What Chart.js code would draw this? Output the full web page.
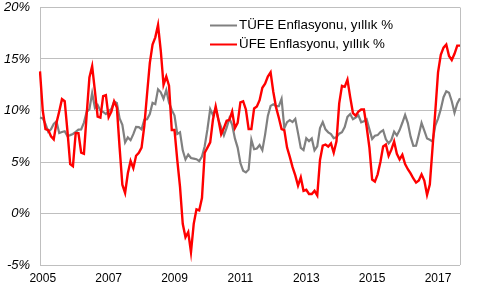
<!DOCTYPE html>
<html><head><meta charset="utf-8">
<script src="https://cdn.jsdelivr.net/npm/chart.js@4"></script>
<style>html,body{margin:0;padding:0;background:#fff}#wrap{width:481px;height:289px}</style>
</head><body><div id="wrap"><canvas id="c" width="481" height="289"></canvas></div>
<script>
// Monthly series, Dec 2004 .. Sep 2017
const startYear = 2004, startMonth = 12;
const tickYears = ['2005','2007','2009','2011','2013','2015','2017'];
const tufeLabel = 'TÜFE Enflasyonu, yıllık %';
const ufeLabel = 'ÜFE Enflasyonu, yıllık %';

const tufe = [
 9.32,
 9.24, 8.69, 7.94, 8.18, 8.70, 8.95, 7.82, 7.91, 7.99, 7.52, 7.61, 7.72,
 7.93, 8.15, 8.16, 8.83, 9.86, 10.12, 11.69, 10.26, 10.55, 9.98, 9.86, 9.65,
 9.93, 10.16, 10.86, 10.72, 9.23, 8.60, 6.90, 7.39, 7.12, 7.70, 8.40, 8.39,
 8.17, 9.10, 9.15, 9.66, 10.74, 10.61, 12.06, 11.77, 11.13, 11.99, 10.76, 10.06,
 9.50, 7.73, 7.89, 6.13, 5.24, 5.73, 5.39, 5.33, 5.27, 5.08, 5.53, 6.53,
 8.19, 10.13, 9.56, 10.19, 9.10, 8.37, 7.58, 8.33, 9.24, 8.62, 7.29, 6.40,
 4.90, 4.16, 3.99, 4.26, 7.17, 6.24, 6.31, 6.65, 6.15, 7.66, 9.48, 10.45,
 10.61, 10.43, 10.43, 11.14, 8.28, 8.87, 9.07, 8.88, 9.19, 7.80, 6.37, 6.16,
 7.31, 7.03, 7.29, 6.13, 6.51, 8.30, 8.88, 8.17, 7.88, 7.71, 7.32, 7.40,
 7.75, 7.89, 8.39, 9.38, 9.66, 9.16, 9.32, 9.54, 8.86, 8.96, 9.15, 8.17,
 7.24, 7.55, 7.61, 7.91, 8.09, 7.20, 6.81, 7.14, 7.95, 7.58, 8.10, 8.81,
 9.58, 8.78, 7.46, 6.57, 6.58, 7.64, 8.79, 8.05, 7.28, 7.16, 7.00, 8.53,
 9.22, 10.13, 11.29, 11.87, 11.72, 10.90, 9.79, 10.68, 11.20
];

const ufe = [
 13.8,
 10.0, 8.2, 8.1, 7.5, 7.2, 8.8, 9.9, 11.1, 10.9, 8.0, 4.8, 4.6,
 7.8, 7.8, 5.9, 5.8, 9.6, 13.2, 14.3, 11.9, 9.4, 9.3, 11.4, 11.5,
 9.35, 9.9, 10.9, 10.3, 6.4, 2.8, 2.0, 3.9, 5.1, 4.4, 5.6, 5.9,
 6.4, 8.5, 11.6, 14.6, 16.4, 17.1, 18.3, 15.8, 12.5, 13.3, 12.4, 8.1,
 8.1, 5.2, 2.6, -1.0, -2.3, -1.8, -3.75, -1.0, 0.4, 0.3, 1.5, 5.9,
 6.4, 6.9, 9.1, 10.4, 9.1, 7.7, 8.3, 9.0, 9.1, 9.9, 8.3, 8.8,
 10.8, 10.9, 10.1, 8.2, 8.2, 10.2, 10.4, 11.0, 12.2, 12.6, 13.3, 13.7,
 11.8, 10.3, 9.3, 8.2, 8.1, 6.4, 5.5, 4.5, 3.7, 2.7, 3.5, 2.2,
 2.3, 1.9, 1.9, 2.2, 1.75, 5.2, 6.6, 6.7, 6.5, 6.8, 5.9, 7.0,
 10.7, 12.4, 12.3, 13.0, 11.3, 9.75, 9.5, 9.9, 10.1, 10.1, 8.4, 6.4,
 3.3, 3.1, 3.8, 5.0, 6.5, 6.7, 5.6, 6.2, 7.0, 5.8, 5.25, 5.7,
 4.8, 4.3, 3.9, 3.4, 3.0, 3.2, 3.8, 3.2, 1.8, 2.8, 6.4, 9.9,
 13.7, 15.4, 16.1, 16.4, 15.3, 14.9, 15.5, 16.3, 16.3
];

const months = tufe.map((_, i) => {
  const k = startMonth - 1 + i;
  return (startYear + Math.floor(k / 12)) + '-' + String(k % 12 + 1).padStart(2, '0');
});

const FONT = '"Liberation Sans", Arial, sans-serif';

const framePlugin = {
  id: 'frame',
  beforeDatasetsDraw(chart) {
    const {ctx, chartArea: a} = chart;
    ctx.save();
    ctx.strokeStyle = '#bfbfbf';
    ctx.lineWidth = 1;
    ctx.beginPath();
    ctx.moveTo(Math.round(a.right) + 0.5, a.top);
    ctx.lineTo(Math.round(a.right) + 0.5, a.bottom);
    ctx.stroke();
    ctx.restore();
  }
};

const legendPlugin = {
  id: 'innerLegend',
  afterDraw(chart) {
    const {ctx, chartArea: a} = chart;
    ctx.save();
    ctx.font = '13.33px ' + FONT;
    ctx.textBaseline = 'middle';
    ctx.textAlign = 'left';
    chart.data.datasets.forEach((ds, i) => {
      const y = a.top + 18 + i * 19;
      const x0 = a.left + 170;
      ctx.strokeStyle = ds.borderColor;
      ctx.lineWidth = 2;
      ctx.beginPath();
      ctx.moveTo(x0, y);
      ctx.lineTo(x0 + 27, y);
      ctx.stroke();
      ctx.fillStyle = '#000';
      ctx.fillText(ds.label, x0 + 29, y);
    });
    ctx.restore();
  }
};

new Chart(document.getElementById('c'), {
  type: 'line',
  data: {
    labels: months,
    datasets: [
      {label: tufeLabel, data: tufe, borderColor: '#808080', borderWidth: 2.2, pointRadius: 0, tension: 0, order: 1},
      {label: ufeLabel, data: ufe, borderColor: '#ff0000', borderWidth: 2.4, pointRadius: 0, tension: 0, order: 0}
    ]
  },
  options: {
    responsive: false,
    animation: false,
    devicePixelRatio: 1,
    layout: {padding: {top: 7.5, right: 21, left: 0, bottom: 0}, autoPadding: false},
    plugins: {legend: {display: false}, tooltip: {enabled: false}},
    scales: {
      x: {
        type: 'category',
        offset: false,
        grid: {display: false, drawTicks: false},
        border: {display: false},
        ticks: {
          autoSkip: false, maxRotation: 0, minRotation: 0, padding: 6,
          color: '#000', font: {family: FONT, size: 12},
          callback(val) {
            const lab = this.getLabelForValue(val);
            const [y, m] = lab.split('-');
            return (m === '01' && tickYears.includes(y)) ? y : null;
          }
        },
        afterFit(s) { s.height = 24; s.paddingLeft = 0; s.paddingRight = 0; }
      },
      y: {
        min: -5, max: 20,
        grid: {color: '#bfbfbf', lineWidth: 1, drawTicks: false},
        border: {display: true, color: '#bfbfbf'},
        ticks: {
          stepSize: 5, padding: 10, color: '#000',
          font: {family: FONT, size: 13, style: 'italic'},
          callback: v => v + '%'
        },
        afterFit(s) { s.width = 40; s.paddingTop = 0; s.paddingBottom = 0; }
      }
    }
  },
  plugins: [framePlugin, legendPlugin]
});
</script>
</body></html>
